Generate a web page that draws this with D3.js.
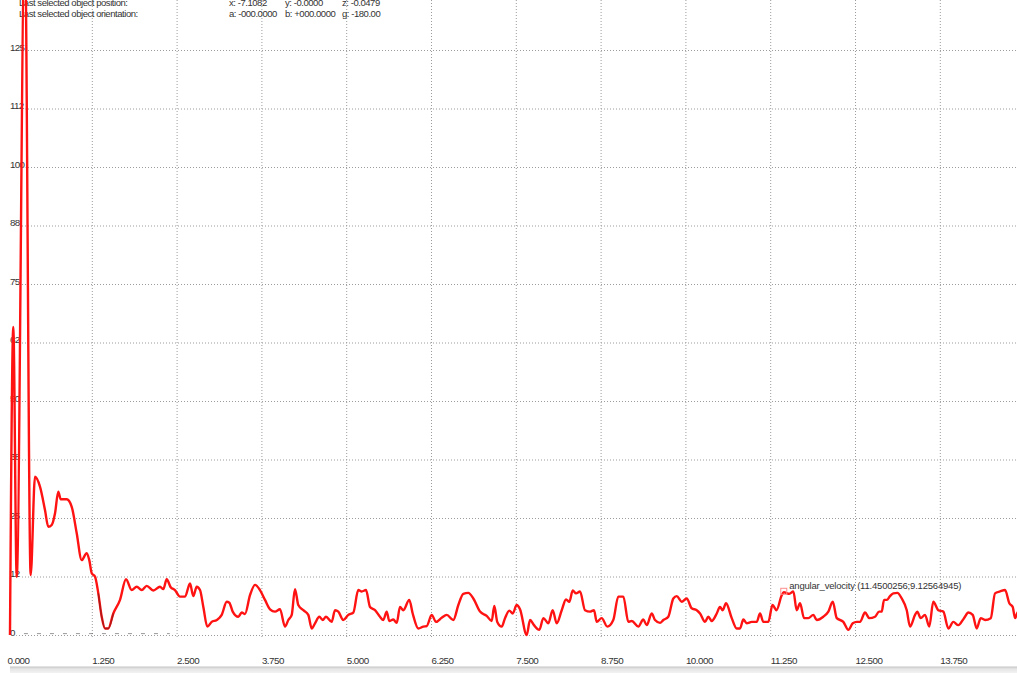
<!DOCTYPE html>
<html>
<head>
<meta charset="utf-8">
<script src="https://cdn.jsdelivr.net/npm/d3@7"></script>
<style>
  html, body { margin: 0; padding: 0; background: #ffffff; }
  svg { display: block; font-family: "Liberation Sans", Arial, sans-serif; }
</style>
</head>
<body>
<svg id="chart" width="1017" height="673"></svg>
<script>
// ---- data -------------------------------------------------------------
const times = [0.044,0.093,0.143,0.262,0.349,0.413,0.486,0.560,0.609,0.659,0.708,0.756,0.792,0.880,0.954,1.027,1.101,1.175,1.213,1.249,1.297,1.346,1.396,1.445,1.493,1.567,1.666,1.754,1.838,1.912,1.986,2.059,2.157,2.255,2.304,2.354,2.413,2.476,2.550,2.624,2.698,2.746,2.796,2.845,2.894,2.953,3.017,3.091,3.165,3.239,3.277,3.327,3.410,3.460,3.508,3.582,3.656,3.729,3.803,3.877,3.951,4.024,4.098,4.147,4.197,4.245,4.294,4.368,4.441,4.492,4.540,4.604,4.654,4.702,4.786,4.835,4.884,4.957,5.031,5.105,5.178,5.229,5.292,5.351,5.425,5.498,5.547,5.597,5.635,5.694,5.745,5.793,5.842,5.930,5.980,6.063,6.137,6.187,6.260,6.324,6.408,6.482,6.579,6.653,6.726,6.800,6.874,6.973,7.071,7.145,7.183,7.227,7.292,7.341,7.404,7.455,7.513,7.562,7.661,7.710,7.768,7.847,7.906,7.979,8.044,8.103,8.177,8.240,8.289,8.339,8.388,8.447,8.520,8.594,8.653,8.693,8.766,8.849,8.937,9.011,9.085,9.159,9.209,9.306,9.380,9.430,9.503,9.552,9.626,9.675,9.748,9.822,9.872,9.946,10.019,10.093,10.167,10.216,10.289,10.338,10.388,10.462,10.510,10.550,10.599,10.683,10.756,10.805,10.854,10.904,10.978,11.051,11.100,11.149,11.222,11.284,11.343,11.420,11.450,11.532,11.591,11.641,11.690,11.749,11.812,11.886,11.936,12.033,12.107,12.172,12.231,12.328,12.402,12.467,12.526,12.574,12.648,12.711,12.795,12.855,12.894,12.928,12.968,13.016,13.065,13.124,13.189,13.263,13.311,13.385,13.418,13.468,13.532,13.595,13.654,13.728,13.802,13.876,13.949,14.023,14.107,14.171,14.235,14.294,14.353,14.418,14.501,14.564,14.638,14.712,14.775,14.825,14.859,14.889,14.933];

const angularVelocity = [0,65.8,12.4,150,12.8,33.8,31.7,26.7,23.1,23.5,26.0,30.6,29.0,29.0,27.4,21.8,16.0,17.5,16.0,13.2,12.5,8.9,3.9,1.4,1.4,4.6,7.5,11.9,9.6,10.3,9.6,10.5,9.5,10.3,9.8,11.9,10.2,9.6,8.2,8.2,11.0,8.3,10.3,9.6,6.0,1.8,2.8,3.2,4.3,7.1,6.9,5.0,3.9,4.8,4.5,8.5,10.7,9.6,7.5,5.5,5.0,5.5,1.8,3.2,4.3,9.8,6.4,5.3,4.3,1.4,2.5,3.9,3.2,3.9,2.8,5.3,5.0,3.2,4.3,4.8,9.6,9.3,9.6,6.0,5.3,3.9,3.2,5.0,3.0,3.3,2.6,6.0,5.3,7.5,4.6,1.4,1.8,1.9,4.3,2.8,3.7,4.3,3.2,6.4,8.8,9.0,7.8,5.0,4.1,3.0,6.2,2.8,1.8,3.6,5.2,4.6,6.4,5.5,0.0,3.2,2.1,1.1,3.6,2.5,5.3,2.5,5.3,7.6,7.1,9.5,8.9,9.3,5.3,5.0,5.3,2.8,3.6,1.8,3.2,8.2,8.2,2.8,3.0,1.8,3.3,2.1,4.6,3.2,2.6,3.2,3.9,7.8,8.3,7.1,7.8,5.7,5.3,4.6,2.8,3.9,3.0,4.6,6.0,5.3,6.8,3.6,1.4,1.4,3.3,2.5,2.8,2.8,4.6,2.8,2.8,6.4,5.3,8.5,9.12564945,8.8,9.3,5.3,6.8,3.6,3.6,4.3,3.2,3.9,5.0,7.1,3.6,2.8,1.1,2.5,2.8,2.8,4.8,3.6,3.9,5.0,5.0,7.5,7.5,8.3,8.9,9.0,7.8,5.3,1.8,4.3,5.0,3.6,4.3,1.8,7.1,5.3,5.0,1.4,2.8,2.1,3.6,4.8,4.3,1.4,3.6,3.2,3.6,8.9,9.3,9.6,6.8,6.0,3.6,4.6,5.5];

// faint second trace lying along the baseline at the start of the run
const baseTraceTimes = [0.25, 2.40];
const baseTraceValues = [0.3, 0.3];

// highlighted stretch of the velocity trace (drawn darker)
const darkWindow = [1.34, 1.60];

const xTicks = [0, 1.25, 2.5, 3.75, 5, 6.25, 7.5, 8.75, 10, 11.25, 12.5, 13.75];
const yTicks = [0, 12.5, 25, 37.5, 50, 62.5, 75, 87.5, 100, 112.5, 125];
const yTickLabels = ["0", "12", "25", "38", "50", "62", "75", "88", "100", "112", "125"];

const selectedPoint = { name: "angular_velocity", t: 11.4500256, v: 9.12564945 };

const headerLines = [
  ["Last selected object position:", "x: -7.1082", "y: -0.0000", "z: -0.0479"],
  ["Last selected object orientation:", "a: -000.0000", "b: +000.0000", "g: -180.00"]
];

// ---- layout -----------------------------------------------------------
const W = 1017, H = 673;
const svg = d3.select("#chart");

const x = d3.scaleLinear().domain([0, 15]).range([7, 7 + 67.84 * 15]);
const y = d3.scaleLinear().domain([0, 125]).range([635, 50]);

const gridColor = "#9c9c9c";
const textColor = "#333333";

// bottom scroll strip
const grad = svg.append("defs").append("linearGradient")
  .attr("id", "strip").attr("x1", 0).attr("y1", 0).attr("x2", 0).attr("y2", 1);
grad.append("stop").attr("offset", "0%").attr("stop-color", "#c4c4c4");
grad.append("stop").attr("offset", "35%").attr("stop-color", "#e6e6e6");
grad.append("stop").attr("offset", "100%").attr("stop-color", "#f4f4f4");
svg.append("rect").attr("x", 10).attr("y", 666.5).attr("width", W - 10).attr("height", 7)
  .attr("fill", "url(#strip)");

// vertical grid + time labels
const gx = svg.append("g")
  .attr("transform", `translate(0,${637})`)
  .call(d3.axisBottom(x).tickValues(xTicks).tickSize(-637).tickFormat(d3.format(".3f")));
gx.select(".domain").remove();
gx.selectAll(".tick line")
  .attr("stroke", gridColor).attr("stroke-dasharray", "1,2")
  .attr("opacity", d => d === 0 ? 0 : 1);
gx.selectAll(".tick text")
  .attr("x", 0).attr("y", 27).attr("dy", null)
  .attr("text-anchor", "start")
  .attr("fill", textColor).attr("font-size", 9.8).attr("letter-spacing", -0.5);

// horizontal grid + value labels
const gy = svg.append("g")
  .attr("transform", `translate(10,0)`)
  .call(d3.axisLeft(y).tickValues(yTicks).tickSize(-(W - 10)).tickFormat((d, i) => yTickLabels[i]));
gy.select(".domain").remove();
gy.selectAll(".tick line").attr("stroke", gridColor).attr("stroke-dasharray", "1,2");
gy.selectAll(".tick text")
  .attr("x", 0).attr("dy", null).attr("y", 0)
  .attr("text-anchor", "start")
  .attr("fill", textColor).attr("font-size", 9.8).attr("letter-spacing", -0.7)
  .attr("stroke", "#ffffff").attr("stroke-width", 3).attr("paint-order", "stroke");

// header text (the first row runs off the top edge of the window)
const hdr = svg.append("g").attr("font-size", 9.5).attr("fill", textColor).attr("letter-spacing", -0.45);
const colX = [19, 229, 285, 342];
headerLines.forEach((line, r) => {
  line.forEach((txt, c) => {
    hdr.append("text").attr("x", colX[c]).attr("y", 6 + r * 11).text(txt);
  });
});

// series
const pts = times.map((t, i) => ({ t, v: angularVelocity[i] }));
const line = d3.line().x(d => x(d.t)).y(d => y(d.v)).curve(d3.curveMonotoneX);

svg.append("path")
  .datum(baseTraceTimes.map((t, i) => ({ t, v: baseTraceValues[i] })))
  .attr("d", d3.line().x(d => x(d.t)).y(d => y(d.v)))
  .attr("fill", "none").attr("stroke", "#555555").attr("stroke-width", 1)
  .attr("stroke-dasharray", "4,9").attr("opacity", 0.6);

svg.append("path")
  .datum(pts)
  .attr("d", line)
  .attr("fill", "none")
  .attr("stroke", "#ff1212")
  .attr("stroke-width", 2.4)
  .attr("stroke-linejoin", "round");

svg.append("path")
  .datum(pts.filter(d => d.t >= darkWindow[0] && d.t <= darkWindow[1]))
  .attr("d", line)
  .attr("fill", "none")
  .attr("stroke", "#8a1a1a")
  .attr("stroke-width", 1.4)
  .attr("opacity", 0.7);

// selected point marker + readout
const mx = x(selectedPoint.t), my = y(selectedPoint.v);
svg.append("rect")
  .attr("x", mx - 3).attr("y", my - 4).attr("width", 6).attr("height", 6)
  .attr("fill", "none").attr("stroke", "#ff8c8c").attr("stroke-width", 1);
svg.append("text")
  .attr("x", mx + 5.5).attr("y", my - 3.5)
  .attr("font-size", 9.5).attr("fill", textColor).attr("letter-spacing", -0.2)
  .text(`${selectedPoint.name} (${selectedPoint.t.toFixed(7)};${selectedPoint.v.toFixed(8)})`);
</script>
</body>
</html>
